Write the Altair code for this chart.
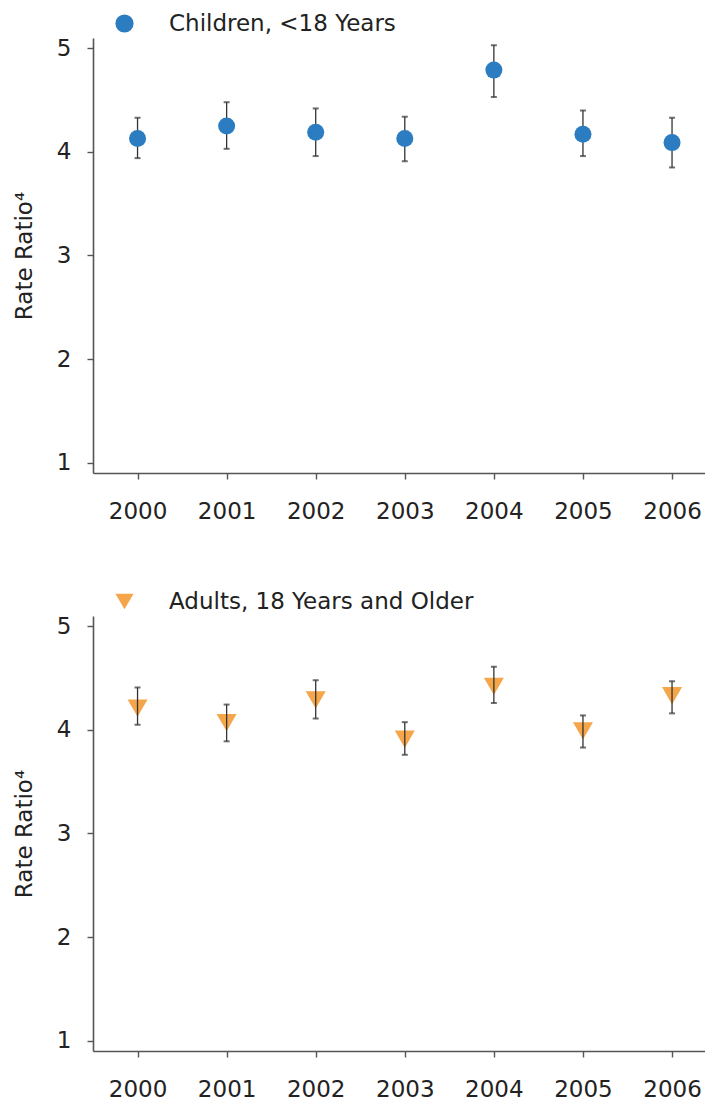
import altair as alt
import pandas as pd

years = [2000, 2001, 2002, 2003, 2004, 2005, 2006]

child_rate = [4.13, 4.25, 4.19, 4.13, 4.79, 4.17, 4.09]
child_lo = [3.94, 4.03, 3.96, 3.91, 4.53, 3.96, 3.85]
child_hi = [4.33, 4.48, 4.42, 4.34, 5.03, 4.40, 4.33]

adult_rate = [4.21, 4.07, 4.29, 3.91, 4.42, 3.99, 4.33]
adult_lo = [4.05, 3.89, 4.11, 3.76, 4.26, 3.83, 4.16]
adult_hi = [4.41, 4.245, 4.48, 4.075, 4.61, 4.14, 4.47]

child_label = "Children, <18 Years"
adult_label = "Adults, 18 Years and Older"
y_title = "Rate Ratio\u2074"

FONT = "DejaVu Sans"
W, H = 612, 435
X_DOMAIN = [1999.5, 2006.37]
Y_DOMAIN = [0.9, 5.1]


def legend():
    return alt.Legend(orient="none", legendX=20, legendY=-26, title=None,
                      labelFontSize=23, labelFont=FONT, labelColor="#222222",
                      labelOffset=33, labelLimit=0, symbolStrokeWidth=0, padding=0)


def panel(rate, lo, hi, label, color, shape, size, bars_on_top):
    df = pd.DataFrame({"year": years, "rate": rate, "lo": lo, "hi": hi,
                       "group": [label] * len(years)})
    base = alt.Chart(df)
    x = alt.X("year:Q", scale=alt.Scale(domain=X_DOMAIN, nice=False, zero=False),
              axis=alt.Axis(values=years, format="d", title=None, grid=False,
                            tickSize=6, labelPadding=21, labelFontSize=23,
                            labelFont=FONT, labelColor="#222222",
                            domainColor="#555555", domainWidth=1.6,
                            tickColor="#555555", tickWidth=1.4,
                            labelFlush=False))
    y_scale = alt.Scale(domain=Y_DOMAIN, nice=False, zero=False)
    y_axis = alt.Axis(values=[1, 2, 3, 4, 5], format="d", title=y_title, grid=False,
                      tickSize=6, labelPadding=16, labelFontSize=23, labelFont=FONT,
                      labelColor="#222222", titleFont=FONT, titleFontSize=23,
                      titleFontWeight="normal", titleColor="#222222", titlePadding=20,
                      domainColor="#555555", domainWidth=1.6,
                      tickColor="#555555", tickWidth=1.4)
    rule = base.mark_rule(color="#333333", strokeWidth=1.3).encode(
        x=x, y=alt.Y("lo:Q", scale=y_scale, axis=y_axis), y2="hi:Q")
    cap_hi = base.mark_tick(orient="horizontal", color="#333333", size=6, thickness=2).encode(
        x="year:Q", y="hi:Q")
    cap_lo = base.mark_tick(orient="horizontal", color="#333333", size=6, thickness=2).encode(
        x="year:Q", y="lo:Q")
    pts = base.mark_point(filled=True, opacity=1, size=size).encode(
        x="year:Q",
        y=alt.Y("rate:Q", scale=y_scale, axis=y_axis),
        color=alt.Color("group:N", scale=alt.Scale(domain=[label], range=[color]),
                        legend=legend()),
        shape=alt.Shape("group:N", scale=alt.Scale(domain=[label], range=[shape]),
                        legend=legend()),
    )
    if bars_on_top:
        layers = [pts, rule, cap_hi, cap_lo]
    else:
        layers = [rule, cap_hi, cap_lo, pts]
    return alt.layer(*layers).properties(width=W, height=H)


top = panel(child_rate, child_lo, child_hi, child_label, "#2b7cc1", "circle", 290, False)
bottom = panel(adult_rate, adult_lo, adult_hi, adult_label, "#f5a54a", "triangle-down", 400, True)

chart = (
    alt.vconcat(top, bottom, spacing=67)
    .resolve_scale(color="independent", shape="independent")
    .properties(padding={"left": 5, "top": 4, "right": 0, "bottom": 0})
    .configure(font=FONT)
    .configure_view(stroke=None, strokeWidth=0)
    .configure_legend(symbolSize=330)
)

chart.save("out.html", embed_options={"renderer": "svg", "actions": False})
